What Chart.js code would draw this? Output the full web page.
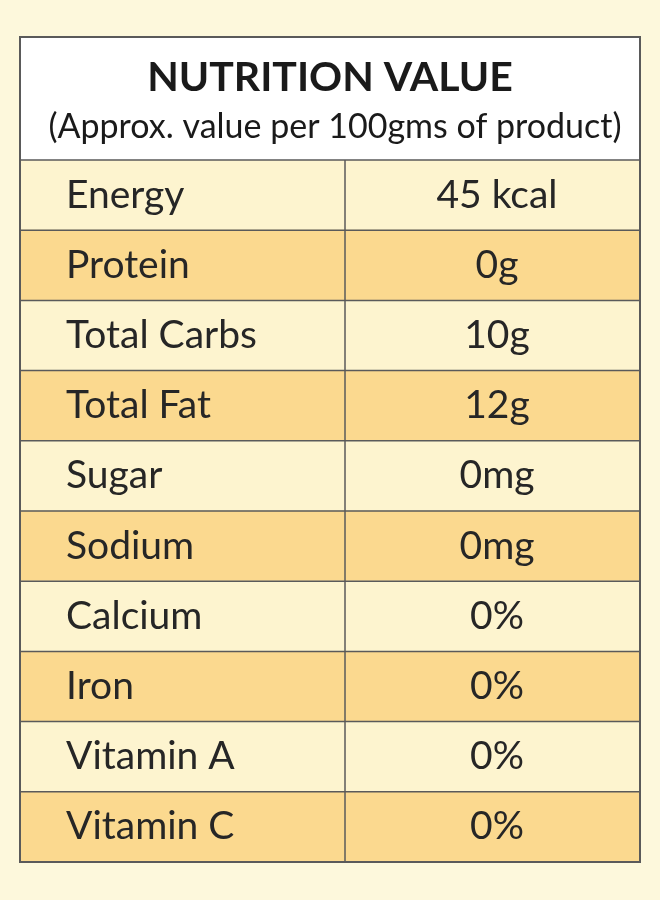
<!DOCTYPE html>
<html>
<head>
<meta charset="utf-8">
<script src="https://cdn.jsdelivr.net/npm/chart.js@4"></script>
<style>
  body { margin: 0; background: #fdf8dc; }
  #wrap { width: 660px; height: 900px; }
</style>
</head>
<body>
<div id="wrap"><canvas id="myChart"></canvas></div>
<script>
// table content
var title = 'NUTRITION VALUE';
var subtitle = '(Approx. value per 100gms of product)';
var nutrients = ['Energy', 'Protein', 'Total Carbs', 'Total Fat', 'Sugar', 'Sodium', 'Calcium', 'Iron', 'Vitamin A', 'Vitamin C'];
var amounts = ['45 kcal', '0g', '10g', '12g', '0mg', '0mg', '0%', '0%', '0%', '0%'];

var rowFill = nutrients.map(function (n, i) { return i % 2 ? '#fbd98f' : '#fdf4cf'; });

var tablePlugin = {
  id: 'tableText',
  afterDatasetsDraw: function (chart) {
    var ctx = chart.ctx;
    var a = chart.chartArea;
    var y = chart.scales.y;
    var colX = 345;
    ctx.save();
    // header box
    ctx.fillStyle = '#ffffff';
    ctx.fillRect(a.left, 37, a.right - a.left, a.top - 37);
    ctx.fillStyle = '#1a1a1a';
    ctx.textAlign = 'center';
    ctx.textBaseline = 'middle';
    ctx.font = 'bold 41px Lato';
    ctx.fillText(title, (a.left + a.right) / 2, 78);
    ctx.font = '34px Lato';
    ctx.fillText(subtitle, 335, 127);

    // row lines
    ctx.strokeStyle = '#5a5a5a';
    ctx.lineWidth = 1.5;
    var h = y.getPixelForValue(1) - y.getPixelForValue(0);
    nutrients.forEach(function (n, i) {
      var cy = y.getPixelForValue(i);
      var top = cy - h / 2;
      ctx.beginPath();
      ctx.moveTo(a.left, top);
      ctx.lineTo(a.right, top);
      ctx.stroke();
      ctx.fillStyle = '#262626';
      ctx.font = '39px Lato';
      ctx.textAlign = 'left';
      ctx.fillText(n, 66, cy);
      ctx.textAlign = 'center';
      ctx.fillText(amounts[i], 497, cy);
    });
    // divider
    ctx.beginPath();
    ctx.moveTo(colX, a.top);
    ctx.lineTo(colX, a.bottom);
    ctx.stroke();
    // outer border
    ctx.lineWidth = 2;
    ctx.strokeRect(a.left, 37, a.right - a.left, a.bottom - 37);
    ctx.restore();
  }
};

var ctx = document.getElementById('myChart').getContext('2d');
var chart = new Chart(ctx, {
  type: 'bar',
  data: {
    labels: nutrients,
    datasets: [{
      data: nutrients.map(function () { return 1; }),
      backgroundColor: rowFill,
      barPercentage: 1,
      categoryPercentage: 1
    }]
  },
  options: {
    indexAxis: 'y',
    responsive: true,
    maintainAspectRatio: false,
    animation: false,
    layout: { padding: { left: 20, right: 20, top: 160, bottom: 38 } },
    plugins: { legend: { display: false }, tooltip: { enabled: false } },
    scales: {
      x: { display: false, min: 0, max: 1 },
      y: { display: false }
    }
  },
  plugins: [tablePlugin]
});
</script>
</body>
</html>
